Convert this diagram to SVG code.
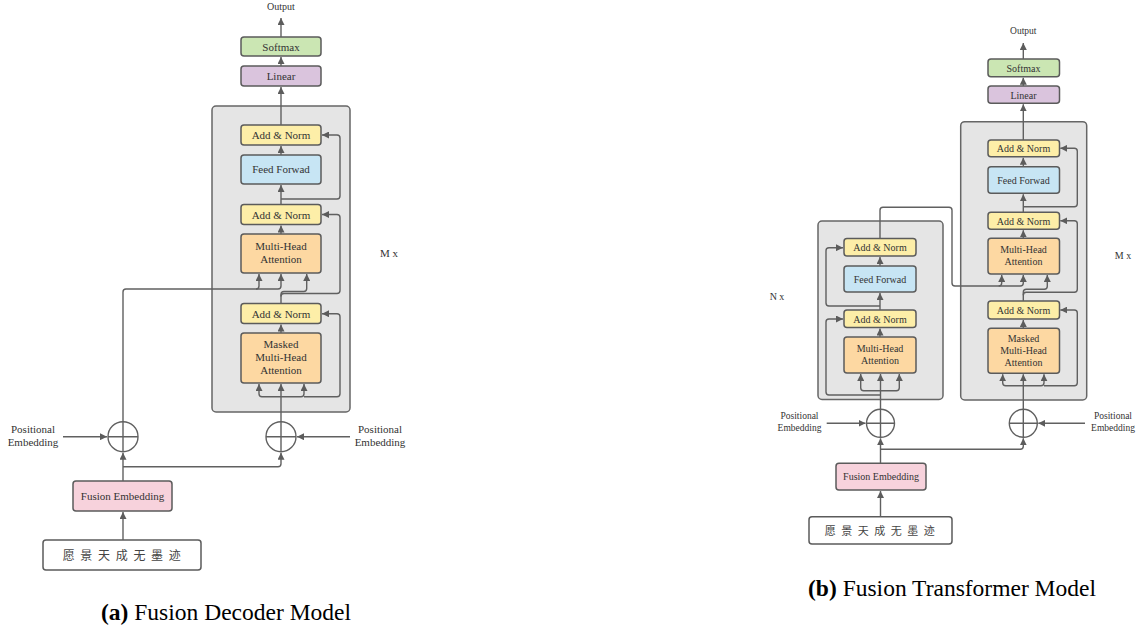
<svg xmlns="http://www.w3.org/2000/svg" width="1142" height="635" viewBox="0 0 1142 635">
<defs>
<style>
.t{font-family:"Liberation Serif","Noto Sans CJK SC",serif;fill:#333;text-anchor:middle;}
.a{font-size:11px;}
.b{font-size:10px;}
.cj{font-family:"Noto Sans CJK SC",sans-serif;fill:#444;text-anchor:middle;}
.cap{font-family:"Liberation Serif",serif;fill:#000;font-size:23.5px;text-anchor:middle;}
.box{stroke:#5b5b5b;stroke-width:1.5;}
.gray{fill:#e5e5e5;stroke:#666;stroke-width:1.5;}
.an{fill:#fdeea8;}
.mha{fill:#fdd8a2;}
.ff{fill:#c7e5f4;}
.sm{fill:#cbe6b3;}
.ln{fill:#dac4dd;}
.fe{fill:#f7d2dc;}
.inp{fill:#fff;}
.c{fill:none;stroke:#606060;stroke-width:1.4;}
.cr{fill:none;stroke:#606060;stroke-width:1.4;}
</style>
<marker id="ah" viewBox="0 0 10 10" refX="10" refY="5" markerWidth="7" markerHeight="7" markerUnits="userSpaceOnUse" orient="auto"><path d="M0,0 L10,5 L0,10 z" fill="#5c5c5c"/></marker>
</defs>
<rect width="1142" height="635" fill="#fff"/>

<!-- ===== (a) Fusion Decoder Model ===== -->
<g id="a-decoder-block"><rect class="gray" x="212" y="106" width="138" height="306" rx="4"/></g>
<g id="a-output"><text class="t b" x="281" y="10">Output</text></g>
<g id="a-softmax"><rect class="box sm" x="241" y="37" width="80" height="19" rx="3"/><text class="t a" x="281" y="50.5">Softmax</text></g>
<g id="a-linear"><rect class="box ln" x="241" y="66" width="80" height="20" rx="3"/><text class="t a" x="281" y="80">Linear</text></g>
<g id="a-addnorm1"><rect class="box an" x="241" y="125" width="80" height="20" rx="3"/><text class="t a" x="281" y="139">Add &amp; Norm</text></g>
<g id="a-ff"><rect class="box ff" x="241" y="155" width="80" height="29" rx="3"/><text class="t a" x="281" y="173">Feed Forwad</text></g>
<g id="a-addnorm2"><rect class="box an" x="241" y="204.5" width="80" height="20" rx="3"/><text class="t a" x="281" y="218.5">Add &amp; Norm</text></g>
<g id="a-mha"><rect class="box mha" x="241" y="234" width="80" height="39" rx="3"/><text class="t a" x="281" y="250">Multi-Head</text><text class="t a" x="281" y="263">Attention</text></g>
<g id="a-addnorm3"><rect class="box an" x="241" y="303.5" width="80" height="20" rx="3"/><text class="t a" x="281" y="317.5">Add &amp; Norm</text></g>
<g id="a-masked"><rect class="box mha" x="241" y="333" width="80" height="50" rx="3"/><text class="t a" x="281" y="348">Masked</text><text class="t a" x="281" y="361">Multi-Head</text><text class="t a" x="281" y="374">Attention</text></g>
<g id="a-plus-left"><circle class="cr" cx="123" cy="436.7" r="15"/><path class="cr" d="M108,436.7 H138 M123,421.7 V451.7"/></g>
<g id="a-plus-right"><circle class="cr" cx="281" cy="436.7" r="15"/><path class="cr" d="M266,436.7 H296 M281,421.7 V451.7"/></g>
<g id="a-pos-left"><text class="t a" x="33" y="432.5">Positional</text><text class="t a" x="33" y="446">Embedding</text></g>
<g id="a-pos-right"><text class="t a" x="380" y="432.5">Positional</text><text class="t a" x="380" y="446">Embedding</text></g>
<g id="a-fusion"><rect class="box fe" x="73" y="481" width="99" height="30" rx="3"/><text class="t a" x="122.5" y="500">Fusion Embedding</text></g>
<g id="a-input"><rect class="box inp" x="43" y="540" width="158" height="30" rx="3"/><text class="cj" font-size="12" x="122.5" y="559.5" letter-spacing="1.5">愿 景 天 成 无 墨 迹</text></g>
<g id="a-mx"><text class="t a" x="389" y="257">M x</text></g>

<!-- ===== (b) Fusion Transformer Model ===== -->
<g id="b-encoder-block"><rect class="gray" x="818" y="221" width="125" height="178.5" rx="4"/></g>
<g id="b-decoder-block"><rect class="gray" x="960.7" y="121.7" width="126" height="278.3" rx="4"/></g>
<g id="b-e-addnorm1"><rect class="box an" x="844" y="238.5" width="72" height="17.5" rx="3"/><text class="t b" x="880" y="251">Add &amp; Norm</text></g>
<g id="b-e-ff"><rect class="box ff" x="844" y="266" width="72" height="26" rx="3"/><text class="t b" x="880" y="282.5">Feed Forwad</text></g>
<g id="b-e-addnorm2"><rect class="box an" x="844" y="310" width="72" height="17.5" rx="3"/><text class="t b" x="880" y="322.5">Add &amp; Norm</text></g>
<g id="b-e-mha"><rect class="box mha" x="844" y="337" width="72" height="36" rx="3"/><text class="t b" x="880" y="352">Multi-Head</text><text class="t b" x="880" y="364">Attention</text></g>
<g id="b-nx"><text class="t b" x="777" y="300">N x</text></g>

<g id="b-output"><text class="t" font-size="9.5" x="1023.3" y="34">Output</text></g>
<g id="b-softmax"><rect class="box sm" x="988" y="59" width="71.5" height="17.7" rx="3"/><text class="t b" x="1023.5" y="71.5">Softmax</text></g>
<g id="b-linear"><rect class="box ln" x="988" y="86" width="71.5" height="17.3" rx="3"/><text class="t b" x="1023.5" y="98.5">Linear</text></g>
<g id="b-d-addnorm1"><rect class="box an" x="988" y="140" width="71.5" height="16.7" rx="3"/><text class="t b" x="1023.5" y="152">Add &amp; Norm</text></g>
<g id="b-d-ff"><rect class="box ff" x="988" y="166.7" width="71.5" height="26.6" rx="3"/><text class="t b" x="1023.5" y="183.5">Feed Forwad</text></g>
<g id="b-d-addnorm2"><rect class="box an" x="988" y="212.3" width="71.5" height="17" rx="3"/><text class="t b" x="1023.5" y="224.5">Add &amp; Norm</text></g>
<g id="b-d-mha"><rect class="box mha" x="988" y="238.3" width="71.5" height="35.7" rx="3"/><text class="t b" x="1023.5" y="253">Multi-Head</text><text class="t b" x="1023.5" y="265">Attention</text></g>
<g id="b-d-addnorm3"><rect class="box an" x="988" y="301" width="71.5" height="18" rx="3"/><text class="t b" x="1023.5" y="313.5">Add &amp; Norm</text></g>
<g id="b-d-masked"><rect class="box mha" x="988" y="328.3" width="71.5" height="45" rx="3"/><text class="t b" x="1023.5" y="342">Masked</text><text class="t b" x="1023.5" y="354">Multi-Head</text><text class="t b" x="1023.5" y="366">Attention</text></g>
<g id="b-mx"><text class="t b" x="1123" y="259">M x</text></g>

<g id="b-plus-left"><circle class="cr" cx="880.5" cy="423.3" r="14"/><path class="cr" d="M866.5,423.3 H894.5 M880.5,409.3 V437.3"/></g>
<g id="b-plus-right"><circle class="cr" cx="1023.3" cy="423.3" r="14"/><path class="cr" d="M1009.3,423.3 H1037.3 M1023.3,409.3 V437.3"/></g>
<g id="b-pos-left"><text class="t" font-size="9.5" x="799.5" y="418.5">Positional</text><text class="t" font-size="9.5" x="799.5" y="430.5">Embedding</text></g>
<g id="b-pos-right"><text class="t" font-size="9.5" x="1113" y="418.5">Positional</text><text class="t" font-size="9.5" x="1113" y="430.5">Embedding</text></g>
<g id="b-fusion"><rect class="box fe" x="836" y="463.3" width="90" height="26.7" rx="3"/><text class="t b" x="881" y="480">Fusion Embedding</text></g>
<g id="b-input"><rect class="box inp" x="809" y="516.7" width="143" height="27.3" rx="3"/><text class="cj" font-size="11" x="880.5" y="534.5" letter-spacing="1.5">愿 景 天 成 无 墨 迹</text></g>

<!-- captions -->
<g id="caption-a"><text class="cap" x="226" y="620"><tspan font-weight="bold">(a)</tspan> Fusion Decoder Model</text></g>
<g id="caption-b"><text class="cap" x="952" y="596"><tspan font-weight="bold">(b)</tspan> Fusion Transformer Model</text></g>

<!-- ===== connectors ===== -->
<g id="connectors">
<!-- (a) -->
<path class="c" d="M281,37 V18" marker-end="url(#ah)"/>
<path class="c" d="M281,66 V57" marker-end="url(#ah)"/>
<path class="c" d="M281,125 V87" marker-end="url(#ah)"/>
<path class="c" d="M281,155 V146" marker-end="url(#ah)"/>
<path class="c" d="M281,204.5 V185" marker-end="url(#ah)"/>
<path class="c" d="M281,199 H337 Q340,199 340,196 V138 Q340,135 337,135 H322" marker-end="url(#ah)"/>
<path class="c" d="M281,234 V225.5" marker-end="url(#ah)"/>
<path class="c" d="M123,421.7 V292 Q123,289 126,289 H278 Q281,289 281,286 V274" marker-end="url(#ah)"/>
<path class="c" d="M256,289 Q259,289 259,286 V274" marker-end="url(#ah)"/>
<path class="c" d="M281,303.5 V294.5 Q281,291.5 284,291.5 H303.7 Q306.7,291.5 306.7,288.5 V274" marker-end="url(#ah)"/>
<path class="c" d="M281,296.5 Q281,293.5 284,293.5 H337 Q340,293.5 340,290.5 V217.5 Q340,214.5 337,214.5 H322" marker-end="url(#ah)"/>
<path class="c" d="M281,333 V324.5" marker-end="url(#ah)"/>
<path class="c" d="M281,421.7 V384" marker-end="url(#ah)"/>
<path class="c" d="M281,396.7 H262 Q259,396.7 259,393.7 V384" marker-end="url(#ah)"/>
<path class="c" d="M281,396.7 H301 Q304,396.7 304,393.7 V384" marker-end="url(#ah)"/>
<path class="c" d="M304,396.7 H337 Q340,396.7 340,393.7 V316.7 Q340,313.7 337,313.7 H322" marker-end="url(#ah)"/>
<path class="c" d="M63,436.7 H107" marker-end="url(#ah)"/>
<path class="c" d="M350,436.7 H297" marker-end="url(#ah)"/>
<path class="c" d="M123,481 V452.7" marker-end="url(#ah)"/>
<path class="c" d="M123,466.7 H278 Q281,466.7 281,463.7 V452.7" marker-end="url(#ah)"/>
<path class="c" d="M123,540 V512" marker-end="url(#ah)"/>
<!-- (b) encoder -->
<path class="c" d="M880.5,409.3 V374" marker-end="url(#ah)"/>
<path class="c" d="M880.5,390.7 H863.7 Q860.7,390.7 860.7,387.7 V374" marker-end="url(#ah)"/>
<path class="c" d="M880.5,390.7 H896.3 Q899.3,390.7 899.3,387.7 V374" marker-end="url(#ah)"/>
<path class="c" d="M880.5,395 H829 Q826,395 826,392 V322 Q826,319 829,319 H843" marker-end="url(#ah)"/>
<path class="c" d="M880,337 V328.5" marker-end="url(#ah)"/>
<path class="c" d="M880,310 V293" marker-end="url(#ah)"/>
<path class="c" d="M880,306 H829 Q826,306 826,303 V250.7 Q826,247.7 829,247.7 H843" marker-end="url(#ah)"/>
<path class="c" d="M880,266 V257" marker-end="url(#ah)"/>
<path class="c" d="M880,238.5 V210.3 Q880,207.3 883,207.3 H949 Q952,207.3 952,210.3 V283 Q952,286 955,286 H998.7 Q1001.7,286 1001.7,283 V275" marker-end="url(#ah)"/>
<path class="c" d="M998.7,286 H1020.3 Q1023.3,286 1023.3,283 V275" marker-end="url(#ah)"/>
<path class="c" d="M826.7,423.3 H865.5" marker-end="url(#ah)"/>
<path class="c" d="M880.5,463.3 V438.3" marker-end="url(#ah)"/>
<path class="c" d="M880.5,449.3 H1020.3 Q1023.3,449.3 1023.3,446.3 V438.3" marker-end="url(#ah)"/>
<path class="c" d="M880.5,516.7 V491" marker-end="url(#ah)"/>
<!-- (b) decoder -->
<path class="c" d="M1023.3,59 V43" marker-end="url(#ah)"/>
<path class="c" d="M1023.3,86 V77.7" marker-end="url(#ah)"/>
<path class="c" d="M1023.3,140 V104.3" marker-end="url(#ah)"/>
<path class="c" d="M1023.3,166.7 V157.7" marker-end="url(#ah)"/>
<path class="c" d="M1023.3,212.3 V194.3" marker-end="url(#ah)"/>
<path class="c" d="M1023.3,206.7 H1074.3 Q1077.3,206.7 1077.3,203.7 V151.3 Q1077.3,148.3 1074.3,148.3 H1060.3" marker-end="url(#ah)"/>
<path class="c" d="M1023.3,238.3 V230.3" marker-end="url(#ah)"/>
<path class="c" d="M1023.3,301 V292.3 Q1023.3,289.3 1026.3,289.3 H1044.3 Q1047.3,289.3 1047.3,286.3 V275" marker-end="url(#ah)"/>
<path class="c" d="M1023.3,295.3 Q1023.3,292.3 1026.3,292.3 H1074.3 Q1077.3,292.3 1077.3,289.3 V223.8 Q1077.3,220.8 1074.3,220.8 H1060.3" marker-end="url(#ah)"/>
<path class="c" d="M1023.3,328.3 V320" marker-end="url(#ah)"/>
<path class="c" d="M1023.3,409.3 V374.3" marker-end="url(#ah)"/>
<path class="c" d="M1023.3,385.7 H1005.7 Q1002.7,385.7 1002.7,382.7 V374.3" marker-end="url(#ah)"/>
<path class="c" d="M1023.3,385.7 H1041 Q1044,385.7 1044,382.7 V374.3" marker-end="url(#ah)"/>
<path class="c" d="M1044,385.7 H1074.3 Q1077.3,385.7 1077.3,382.7 V313 Q1077.3,310 1074.3,310 H1060.3" marker-end="url(#ah)"/>
<path class="c" d="M1085,423.3 H1038.3" marker-end="url(#ah)"/>
</g>
</svg>
